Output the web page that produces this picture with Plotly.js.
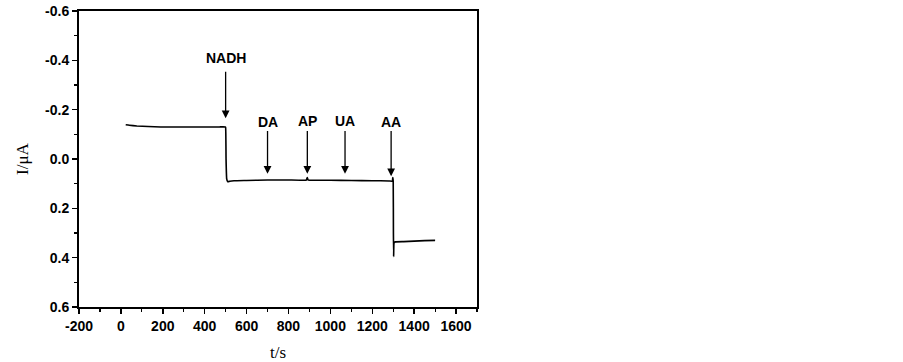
<!DOCTYPE html>
<html>
<head>
<meta charset="utf-8">
<script src="https://cdn.plot.ly/plotly-3.0.1.min.js"></script>
<style>html,body{margin:0;padding:0;background:#fff;}#chart{width:903px;height:362px;}</style>
</head>
<body>
<div id="chart"></div>
<script>
// Time (s) and current (µA)
const timeS = [23, 40, 76, 130, 190, 300, 400, 470, 498, 500, 502, 505, 510, 520, 540, 600, 700, 800, 885, 890, 893, 900, 1000, 1100, 1200, 1280, 1296, 1298, 1300, 1301, 1302, 1304, 1310, 1350, 1400, 1450, 1500];
const currentUA = [-0.139, -0.137, -0.134, -0.132, -0.130, -0.130, -0.130, -0.130, -0.130, -0.128, 0.0, 0.08, 0.092, 0.090, 0.088, 0.087, 0.085, 0.085, 0.085, 0.075, 0.085, 0.086, 0.086, 0.087, 0.088, 0.089, 0.090, 0.075, 0.090, 0.30, 0.395, 0.34, 0.336, 0.335, 0.333, 0.331, 0.330];

// Injection markers
const injectLabels = ["NADH", "DA", "AP", "UA", "AA"];
const injectTimes = [500, 700, 890, 1070, 1290];
const labelY = [-0.41, -0.15, -0.155, -0.155, -0.15];
const arrowTailY = [-0.36, -0.12, -0.12, -0.12, -0.12];
const arrowTipY = [-0.165, 0.06, 0.06, 0.06, 0.07];

const annotations = [];
for (let i = 0; i < injectLabels.length; i++) {
  annotations.push({
    x: injectTimes[i], y: labelY[i], xref: 'x', yref: 'y',
    text: '<b>' + injectLabels[i] + '</b>', showarrow: false,
    font: {family: 'Arial, Liberation Sans, sans-serif', size: 14, color: '#000'}
  });
  annotations.push({
    x: injectTimes[i], y: arrowTipY[i], xref: 'x', yref: 'y',
    ax: injectTimes[i], ay: arrowTailY[i], axref: 'x', ayref: 'y',
    text: '', showarrow: true, arrowhead: 2, arrowsize: 1.2, arrowwidth: 1.3, arrowcolor: '#000'
  });
}

const trace = {
  x: timeS, y: currentUA, type: 'scatter', mode: 'lines',
  line: {color: '#000', width: 1.6, shape: 'spline', smoothing: 0.3}, hoverinfo: 'skip'
};

const tickFont = {family: 'Arial, Liberation Sans, sans-serif', size: 14, color: '#000', weight: 'bold'};

const layout = {
  width: 903, height: 362,
  margin: {l: 79, r: 426, t: 11, b: 55, pad: 0},
  paper_bgcolor: '#fff', plot_bgcolor: '#fff',
  showlegend: false,
  xaxis: {
    range: [-200, 1700], tickmode: 'array',
    tickvals: [-200, 0, 200, 400, 600, 800, 1000, 1200, 1400, 1600],
    ticktext: ['-200', '0', '200', '400', '600', '800', '1000', '1200', '1400', '1600'],
    ticks: 'outside', ticklen: 5, tickwidth: 1.5, tickcolor: '#000',
    minor: {dtick: 100, tick0: -200, ticks: 'outside', ticklen: 3, tickwidth: 1.2, tickcolor: '#000', showgrid: false},
    showline: true, linecolor: '#000', linewidth: 2, mirror: true,
    showgrid: false, zeroline: false, tickfont: tickFont,
    title: {text: 't/s', font: {family: 'Times New Roman, Liberation Serif, serif', size: 17, color: '#000'}, standoff: 14}
  },
  yaxis: {
    range: [0.6, -0.6], tickmode: 'array',
    tickvals: [-0.6, -0.4, -0.2, 0.0, 0.2, 0.4, 0.6],
    ticktext: ['-0.6', '-0.4', '-0.2', '0.0', '0.2', '0.4', '0.6'],
    ticks: 'outside', ticklen: 5, tickwidth: 1.5, tickcolor: '#000',
    minor: {dtick: 0.1, tick0: 0, ticks: 'outside', ticklen: 3, tickwidth: 1.2, tickcolor: '#000', showgrid: false},
    showline: true, linecolor: '#000', linewidth: 2, mirror: true,
    showgrid: false, zeroline: false, tickfont: tickFont,
    title: {text: 'I/μA', font: {family: 'Times New Roman, Liberation Serif, serif', size: 17, color: '#000'}, standoff: 12}
  },
  annotations: annotations
};

Plotly.newPlot('chart', [trace], layout, {staticPlot: true, displayModeBar: false});
</script>
</body>
</html>
